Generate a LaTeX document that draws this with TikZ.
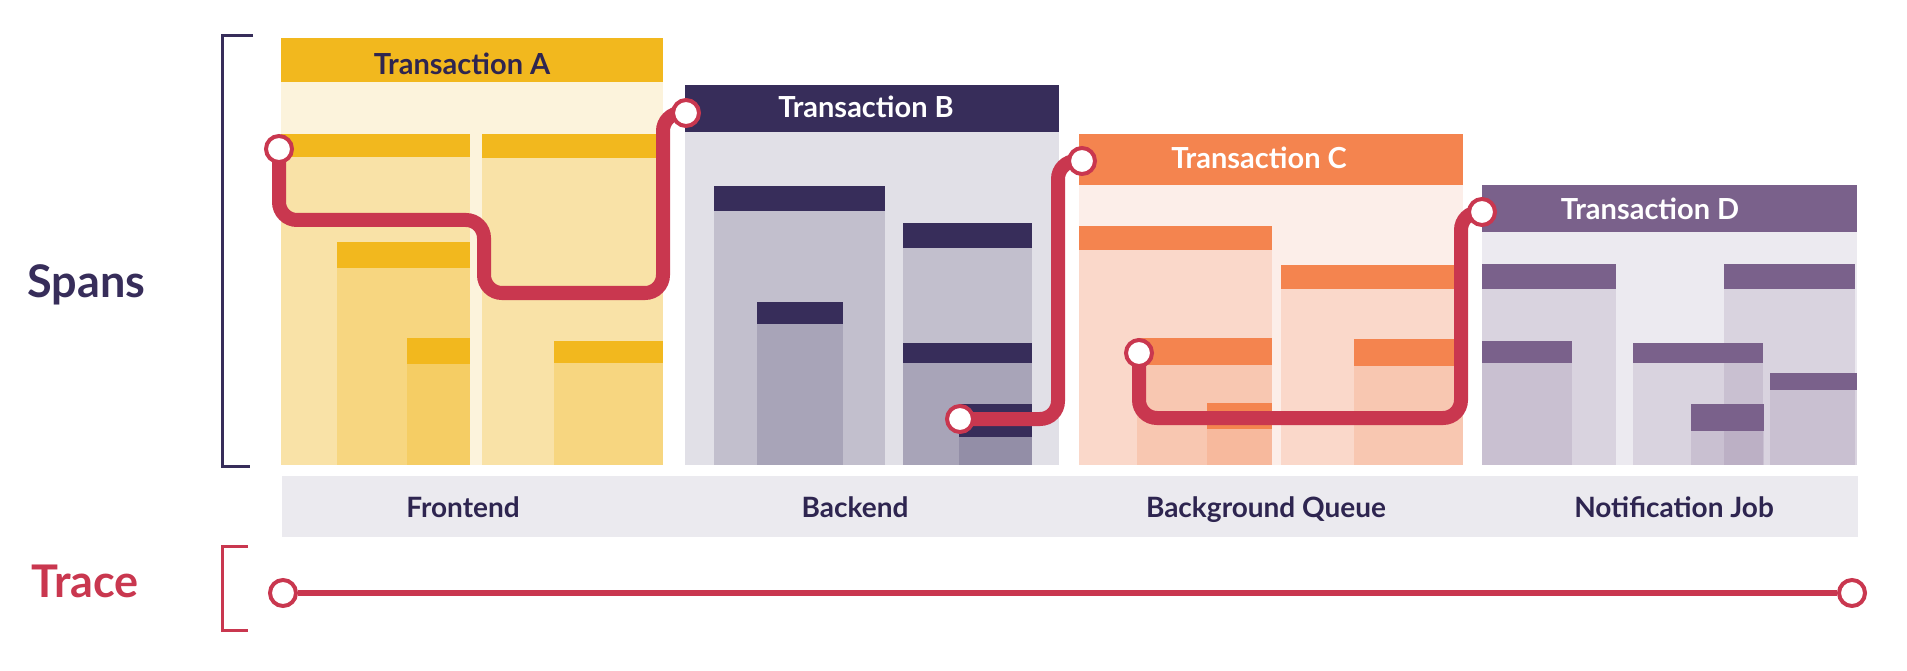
\documentclass[tikz,border=0pt]{standalone}
\usepackage{fontspec}
\setmainfont{Lato}
\usetikzlibrary{positioning}
\definecolor{ink}{HTML}{2E2550}
\definecolor{navy}{HTML}{372D5A}
\definecolor{gold}{HTML}{F2B81E}
\definecolor{coral}{HTML}{F4844F}
\definecolor{plum}{HTML}{7A618B}
\definecolor{berry}{HTML}{C9374F}
\definecolor{bgA}{HTML}{FCF3DC}
\definecolor{bgB}{HTML}{E1E0E7}
\definecolor{bgC}{HTML}{FCEEE9}
\definecolor{bgD}{HTML}{ECEAF0}
\definecolor{strip}{HTML}{EBEAEF}
\pgfdeclarelayer{front}
\pgfsetlayers{main,front}

\begin{document}
\begin{tikzpicture}[x=1pt, y=-1pt,
   txhead/.style={font=\fontsize{29}{29}\selectfont\bfseries, anchor=base},
   lane/.style={font=\fontsize{28}{28}\selectfont\bfseries, text=ink, anchor=base},
   side/.style={font=\fontsize{45}{45}\selectfont\bfseries, anchor=base west},
   route/.style={draw=berry, line width=14pt, rounded corners=18pt},
   hop/.style={circle, draw=berry, fill=white, line width=4pt,
               minimum size=26pt, inner sep=0pt},
   brk/.style={line width=3pt}]
  \useasboundingbox (0,0) rectangle (1907,671);

  % transactions
  \foreach \xa/\ya/\yh/\xb/\col/\bg in {281/38/82/663/gold/bgA, 685/85/132/1059/navy/bgB,
        1079/134/185/1463/coral/bgC, 1482/185/232/1857/plum/bgD} {
    \fill[\bg] (\xa,\yh) rectangle (\xb,465);
    \fill[\col] (\xa,\ya) rectangle (\xb,\yh);
  }
  % spans
  \foreach \xa/\ya/\xb/\yb/\col/\op in {281/134/470/157/gold/.28, 337/242/470/268/gold/.28,
        407/338/470/364/gold/.28, 482/134/663/158/gold/.28, 554/341/663/363/gold/.28,
        714/186/885/211/navy/.18, 757/302/843/324/navy/.18, 903/223/1032/248/navy/.18,
        903/343/1032/363/navy/.18, 959/404/1032/437/navy/.18,
        1079/226/1272/250/coral/.2, 1137/338/1272/365/coral/.2, 1207/403/1272/429/coral/.2,
        1281/265/1463/289/coral/.2, 1354/339/1463/366/coral/.2,
        1482/264/1616/289/plum/.16, 1482/341/1572/363/plum/.16, 1724/264/1855/289/plum/.16,
        1770/373/1857/390/plum/.16, 1633/343/1763/363/plum/.16, 1691/404/1764/431/plum/.16} {
    \fill[\col, fill opacity=\op] (\xa,\yb) rectangle (\xb,465);
    \fill[\col] (\xa,\ya) rectangle (\xb,\yb);
  }

  \node[txhead, text=ink]   (tA) at (462,75)  {Transaction A};
  \node[txhead, text=white] (tB) at (866,118) {Transaction B};
  \node[txhead, text=white] (tC) at (1259,169) {Transaction C};
  \node[txhead, text=white] (tD) at (1650,220) {Transaction D};

  \fill[strip] (282,476) rectangle (1858,537);
  \node[lane] (lA) at (463,517)  {Frontend};
  \node[lane] (lB) at (855,517)  {Backend};
  \node[lane] (lC) at (1266,517) {Background Queue};
  \node[lane] (lD) at (1674,517) {Notification Job};

  \node[side, text=navy]  (spans) at (24,298) {Spans};
  \node[side, text=berry] (trace) at (28,597) {Trace};
  \draw[brk, navy]  (253,36) -- (222,36) -- (222,466) -- (250,466);
  \draw[brk, berry] (248,546) -- (222,546) -- (222,630) -- (248,630);

  \begin{pgfonlayer}{front}
    \node[hop] (hA)  at (279,149)  {};
    \node[hop] (hB)  at (686,113)  {};
    \node[hop] (hB2) at (960,419)  {};
    \node[hop] (hC)  at (1082,161) {};
    \node[hop] (hC2) at (1139,353) {};
    \node[hop] (hD)  at (1482,212) {};
    \node[hop] (t0)  at (283,593)  {};
    \node[hop] (t1)  at (1852,593) {};
  \end{pgfonlayer}
  \draw[route] (hA.center) |- ++(205,71) |- ++(179,73) |- (hB.center);
  \draw[route] (hB2.center) -- ++(98,0) |- (hC.center);
  \draw[route] (hC2.center) |- ++(322,65) |- (hD.center);
  \draw[berry, line width=6pt] (t0) -- (t1);
\end{tikzpicture}
\end{document}
